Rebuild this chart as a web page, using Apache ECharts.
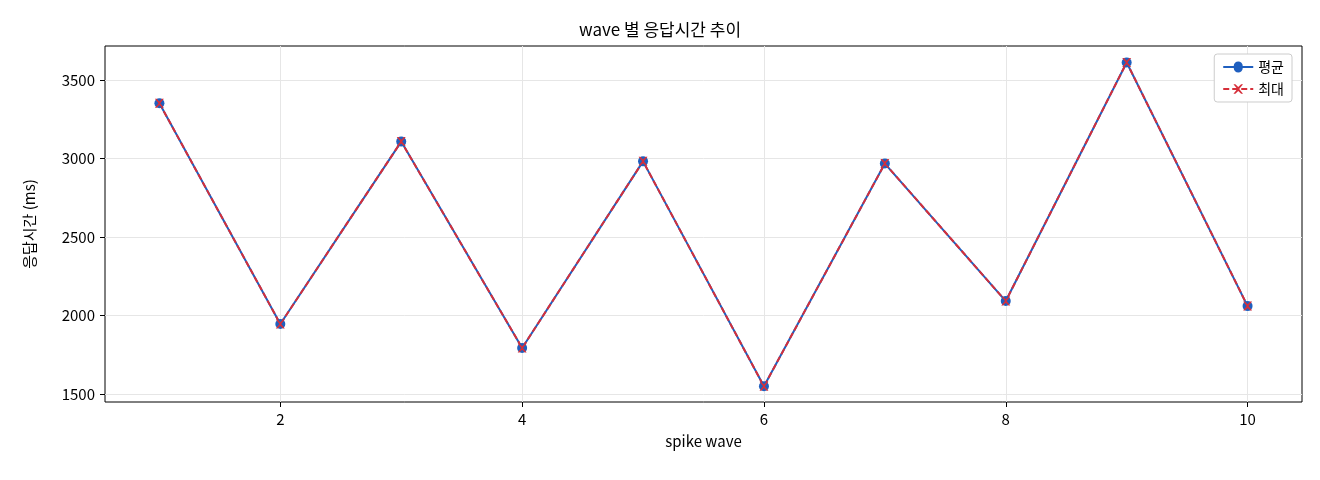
<!DOCTYPE html>
<html><head><meta charset="utf-8">
<script src="https://cdn.jsdelivr.net/npm/echarts@6/dist/echarts.min.js"></script>
<style>html,body{margin:0;padding:0;background:#fff}#c{width:1320px;height:480px}</style>
</head><body><div id="c"></div>
<script>
const waves = [1,2,3,4,5,6,7,8,9,10];
const avgValues = [3352,1946,3108,1793,2982,1549,2968,2092,3612,2060];
const maxValues = [3352,1946,3108,1793,2982,1549,2968,2092,3612,2060];
const xTicks = [2,4,6,8,10];
const yTicks = [1500,2000,2500,3000,3500];
const font = "'Noto Sans CJK KR', 'DejaVu Sans', sans-serif";
const chart = echarts.init(document.getElementById('c'));
chart.setOption({
  animation:false,
  textStyle:{fontFamily:font},
  title:{text:'wave 별 응답시간 추이',left:'center',top:16,textStyle:{fontSize:17,fontWeight:'normal',color:'#000',fontFamily:font}},
  grid:{left:105,right:18,top:46,bottom:78,show:true,borderColor:'#000',borderWidth:1},
  legend:{right:28,top:54,orient:'vertical',itemGap:8,backgroundColor:'#fff',borderColor:'#ccc',borderWidth:1,borderRadius:3,padding:[6,8],itemWidth:30,itemHeight:12,textStyle:{fontSize:14,color:'#000'},
    data:[{name:'평균',icon:'path://M0,5L10.5,5A4.5,4.5 0 1 1 19.5,5L30,5L30,7L19.5,7A4.5,4.5 0 1 1 10.5,7L0,7Z'},{name:'최대'}]},
  xAxis:{type:'value',min:0.55,max:10.45,name:'spike wave',nameLocation:'middle',nameGap:32,nameTextStyle:{fontSize:15,color:'#000'},
    axisLine:{show:false},axisTick:{show:true,customValues:xTicks,length:5,lineStyle:{color:'#000'}},
    axisLabel:{customValues:xTicks,fontSize:15,color:'#000',margin:10},
    splitLine:{show:true,lineStyle:{color:'#e6e6e6'}}},
  yAxis:{type:'value',min:1449,max:3717,name:'응답시간 (ms)',nameLocation:'middle',nameGap:68,nameTextStyle:{fontSize:15,color:'#000'},
    axisLine:{show:false},axisTick:{show:true,customValues:yTicks,length:5,lineStyle:{color:'#000'}},
    axisLabel:{customValues:yTicks,fontSize:15,color:'#000',margin:10,formatter:v=>String(v)},
    splitLine:{show:true,lineStyle:{color:'#e6e6e6'}}},
  series:[
    {name:'평균',type:'line',data:waves.map((w,i)=>[w,avgValues[i]]),symbol:'circle',symbolSize:10,color:'#1f5fbf',lineStyle:{width:2,color:'#1f5fbf'},itemStyle:{color:'#1f5fbf'}},
    {name:'최대',type:'line',data:waves.map((w,i)=>[w,maxValues[i]]),symbol:'path://M0,0L2,0L5,3L8,0L10,0L6,5L10,10L8,10L5,7L2,10L0,10L4,5Z',symbolSize:9,color:'#d62f3a',lineStyle:{width:2,type:[6,3],color:'#d62f3a'},itemStyle:{color:'#d62f3a'}}
  ]
});
</script></body></html>
